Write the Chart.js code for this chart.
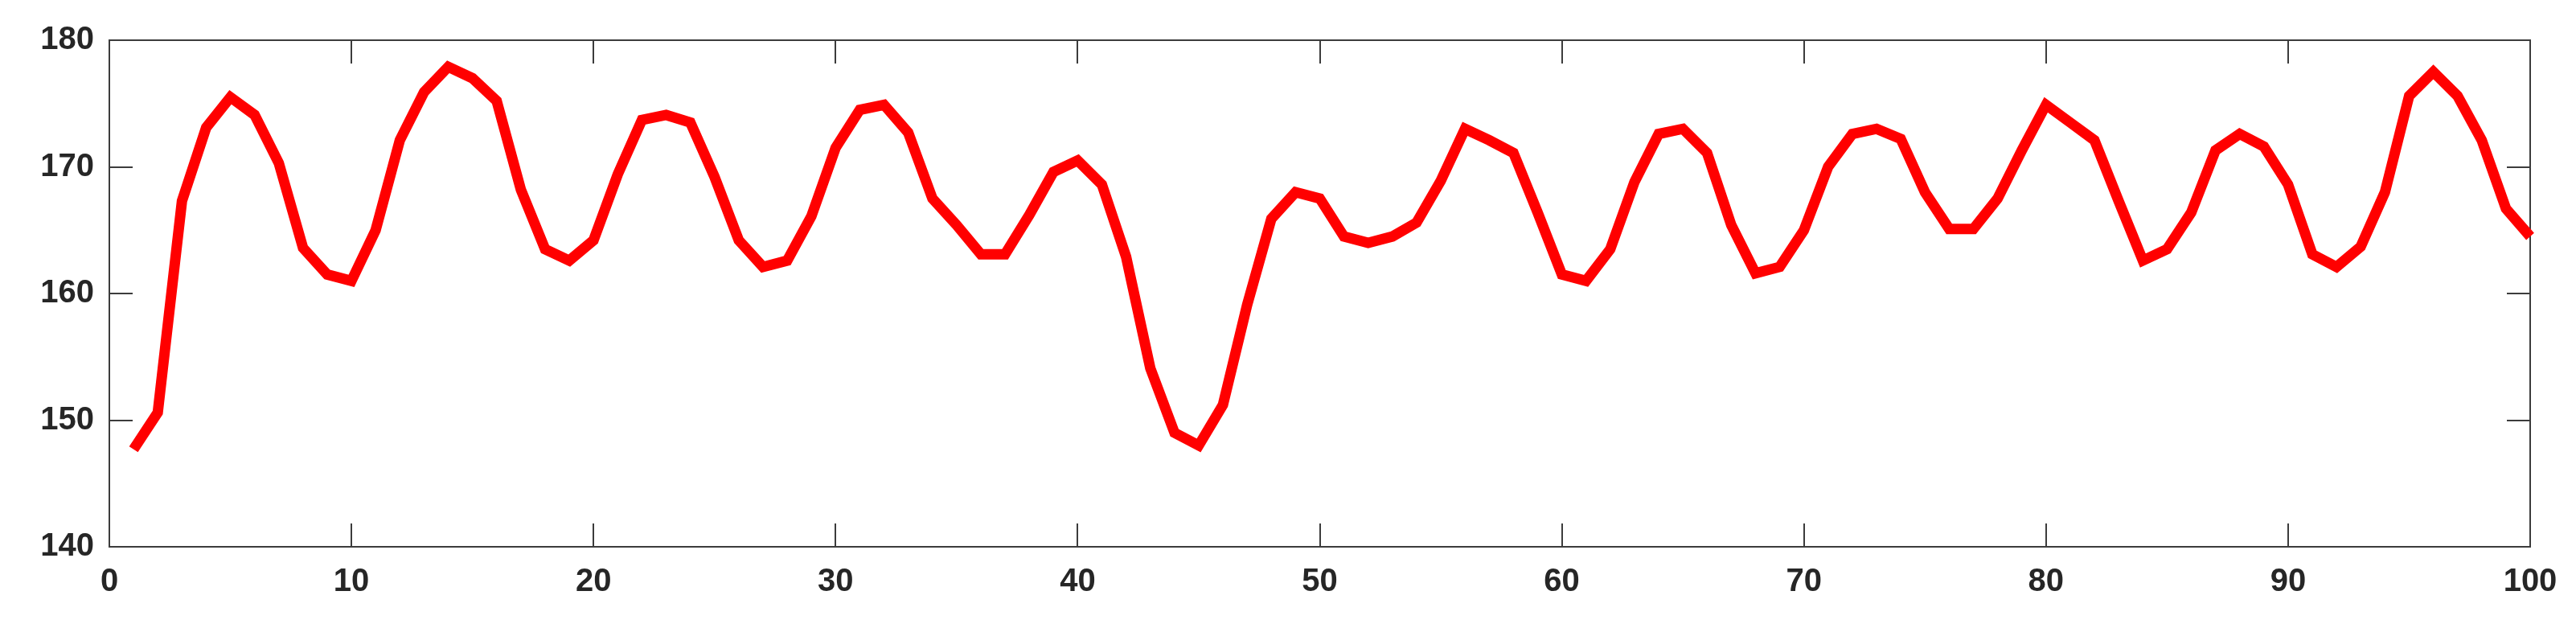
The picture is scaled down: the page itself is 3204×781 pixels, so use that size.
<!DOCTYPE html>
<html>
<head>
<meta charset="utf-8">
<script src="https://cdn.jsdelivr.net/npm/chart.js@4/dist/chart.umd.min.js"></script>
<style>
  html, body { margin: 0; padding: 0; background: #ffffff; }
  #wrap { width: 3204px; height: 781px; }
</style>
</head>
<body>
<div id="wrap"><canvas id="c" width="3204" height="781"></canvas></div>
<script>
const xValues = [
  1, 2, 3, 4, 5, 6, 7, 8, 9, 10,
  11, 12, 13, 14, 15, 16, 17, 18, 19, 20,
  21, 22, 23, 24, 25, 26, 27, 28, 29, 30,
  31, 32, 33, 34, 35, 36, 37, 38, 39, 40,
  41, 42, 43, 44, 45, 46, 47, 48, 49, 50,
  51, 52, 53, 54, 55, 56, 57, 58, 59, 60,
  61, 62, 63, 64, 65, 66, 67, 68, 69, 70,
  71, 72, 73, 74, 75, 76, 77, 78, 79, 80,
  81, 82, 83, 84, 85, 86, 87, 88, 89, 90,
  91, 92, 93, 94, 95, 96, 97, 98, 99, 100
];
const seriesValues = [
  147.7, 150.6, 167.3, 173.1, 175.5, 174.1, 170.3, 163.6, 161.5, 161.0,
  165.0, 172.1, 175.9, 177.9, 177.0, 175.2, 168.2, 163.5, 162.6, 164.2,
  169.4, 173.7, 174.1, 173.5, 169.2, 164.2, 162.1, 162.6, 166.1, 171.5,
  174.5, 174.9, 172.7, 167.5, 165.4, 163.1, 163.1, 166.2, 169.6, 170.5,
  168.6, 162.9, 154.1, 149.0, 148.0, 151.2, 159.1, 165.9, 168.0, 167.5,
  164.5, 164.0, 164.5, 165.6, 168.9, 173.0, 172.1, 171.1, 166.4, 161.5,
  161.0, 163.5, 168.8, 172.6, 173.0, 171.1, 165.4, 161.6, 162.1, 165.0,
  170.0, 172.6, 173.0, 172.2, 168.0, 165.1, 165.1, 167.5, 171.3, 174.9,
  173.5, 172.1, 167.3, 162.6, 163.5, 166.4, 171.3, 172.6, 171.6, 168.6,
  163.1, 162.1, 163.7, 168.0, 175.6, 177.5, 175.6, 172.1, 166.7, 164.5
];
const xTicks = [0, 10, 20, 30, 40, 50, 60, 70, 80, 90, 100];
const yTicks = [140, 150, 160, 170, 180];

const AXIS_COLOR = '#3c3c3c';
const TEXT_COLOR = '#262626';
const TICK_LEN = 29;

const boxPlugin = {
  id: 'matlabBox',
  beforeDatasetsDraw(chart) {
    const ctx = chart.ctx;
    const a = chart.chartArea;
    const xs = chart.scales.x, ys = chart.scales.y;
    ctx.save();
    ctx.strokeStyle = AXIS_COLOR;
    ctx.lineWidth = 2;
    ctx.beginPath();
    xTicks.forEach(v => {
      const px = Math.round(xs.getPixelForValue(v));
      ctx.moveTo(px, a.bottom); ctx.lineTo(px, a.bottom - TICK_LEN);
      ctx.moveTo(px, a.top); ctx.lineTo(px, a.top + TICK_LEN);
    });
    yTicks.forEach(v => {
      const py = Math.round(ys.getPixelForValue(v));
      ctx.moveTo(a.left, py); ctx.lineTo(a.left + TICK_LEN, py);
      ctx.moveTo(a.right, py); ctx.lineTo(a.right - TICK_LEN, py);
    });
    ctx.stroke();
    ctx.strokeRect(a.left, a.top, a.right - a.left, a.bottom - a.top);
    ctx.restore();
  }
};

const fontSpec = { family: '"Liberation Sans", Arial, Helvetica, sans-serif', size: 40, weight: 'bold' };

new Chart(document.getElementById('c'), {
  type: 'line',
  data: {
    datasets: [{
      data: xValues.map((x, i) => ({ x: x, y: seriesValues[i] })),
      borderColor: '#ff0000',
      borderWidth: 13,
      pointRadius: 0,
      tension: 0,
      fill: false,
      clip: 8
    }]
  },
  options: {
    responsive: false,
    animation: false,
    devicePixelRatio: 1,
    layout: { padding: { left: 0, top: 50, right: 57, bottom: 0 } },
    plugins: { legend: { display: false }, tooltip: { enabled: false } },
    scales: {
      x: {
        type: 'linear',
        min: 0, max: 100,
        afterBuildTicks(scale) { scale.ticks = xTicks.map(v => ({ value: v })); },
        afterFit(scale) { scale.height = 101; },
        grid: { display: false, drawTicks: false },
        border: { display: false },
        ticks: { color: TEXT_COLOR, font: fontSpec, padding: 20, maxRotation: 0, autoSkip: false }
      },
      y: {
        type: 'linear',
        min: 140, max: 180,
        afterBuildTicks(scale) { scale.ticks = yTicks.map(v => ({ value: v })); },
        afterFit(scale) { scale.width = 136; },
        grid: { display: false, drawTicks: false },
        border: { display: false },
        ticks: { color: TEXT_COLOR, font: fontSpec, padding: 19, autoSkip: false }
      }
    }
  },
  plugins: [boxPlugin]
});
</script>
</body>
</html>
